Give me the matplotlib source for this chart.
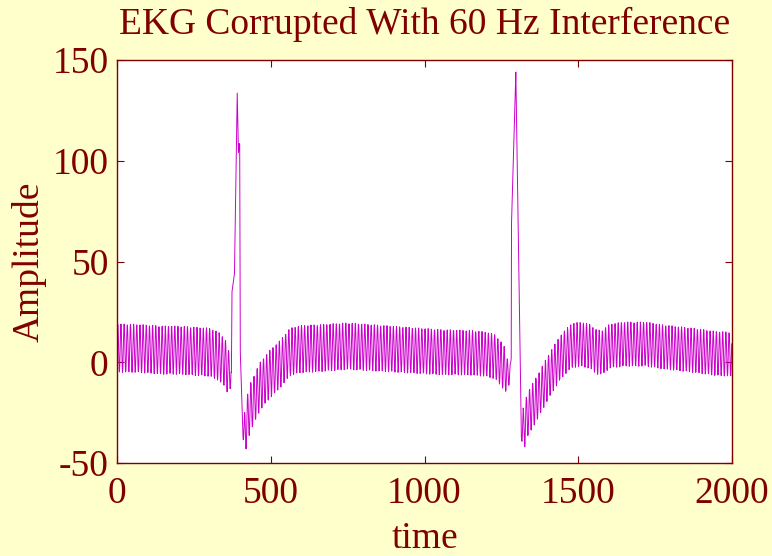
import numpy as np
import matplotlib
matplotlib.use('Agg')
import matplotlib.pyplot as plt

n_samples = 2000
hum_period = 10.3  # samples per 60 Hz cycle

# centre line of the trace (sample index, amplitude)
mid_t = [0, 50, 100, 150, 200, 250, 300, 330, 350, 362, 368,
         372, 374, 382, 391, 395, 398, 399, 401, 410,
         432, 465, 497, 530, 562, 595, 660, 750, 850, 950, 1050, 1150,
         1200, 1230, 1255, 1266, 1272,
         1278, 1282, 1283, 1288, 1297, 1308, 1315,
         1335, 1365, 1400, 1440, 1475, 1505, 1537, 1560, 1580, 1602,
         1650, 1720, 1780, 1870, 1950, 1999]
mid_v = [7, 7, 6.5, 6, 6, 5.5, 5, 3, 0, -4, -6,
         -5, 35, 44, 133.6, 104, 108.5, 108, 5, -38,
         -23, -12, -6, -1, 5, 6.5, 7, 8, 7, 6, 5, 4.7,
         4, 2.7, -2, -5, -7,
         -4, 2, 69, 95, 144, 36, -37,
         -26, -18, -8, 2, 8, 9, 8, 5, 5, 8,
         9, 9, 7.5, 6, 4.3, 4]

# half-height of the 60 Hz ripple along the trace
amp_t = [0, 360, 370, 372, 410, 416, 1262, 1276, 1281, 1315, 1320, 1999]
amp_v = [12, 12, 6, 0, 0, 12, 11, 5, 0, 0, 11, 11]

x_ticks = [0, 500, 1000, 1500, 2000]
y_ticks = [-50, 0, 50, 100, 150]
y_tick_labels = ['-50', '0', '50', '100', '150']

n = np.arange(n_samples)
ekg = np.interp(n, mid_t, mid_v)
hum = np.interp(n, amp_t, amp_v) * np.sin(2 * np.pi * n / hum_period)
signal = ekg + hum

bg = '#ffffcc'
txt = '#800000'
serif = 'Liberation Serif'

fig = plt.figure(figsize=(7.72, 5.56), dpi=100, facecolor=bg)
ax = fig.add_axes([117 / 772, 93 / 556, 615 / 772, 403 / 556])
ax.set_facecolor('white')
ax.plot(n, signal, color='#cc00cc', linewidth=0.7)

ax.set_xlim(0, 2000)
ax.set_ylim(-50, 150)
ax.set_xticks(x_ticks)
ax.set_yticks(y_ticks)
ax.set_yticklabels(y_tick_labels)

font = {'family': serif, 'color': txt}
ax.set_title('EKG Corrupted With 60 Hz Interference', fontdict=font, fontsize=27, pad=19)
ax.set_xlabel('time', fontdict=font, fontsize=27, labelpad=7)
ax.set_ylabel('Amplitude', fontdict=font, fontsize=27, labelpad=4)

ax.tick_params(direction='in', length=5, top=True, right=True, colors=txt,
               labelsize=27)
ax.tick_params(axis='x', pad=10)
ax.tick_params(axis='y', pad=6)
for lab in ax.get_xticklabels() + ax.get_yticklabels():
    lab.set_fontfamily(serif)
for sp in ax.spines.values():
    sp.set_color(txt)
    sp.set_linewidth(1.0)

fig.savefig('out.png', dpi=100, facecolor=bg)
